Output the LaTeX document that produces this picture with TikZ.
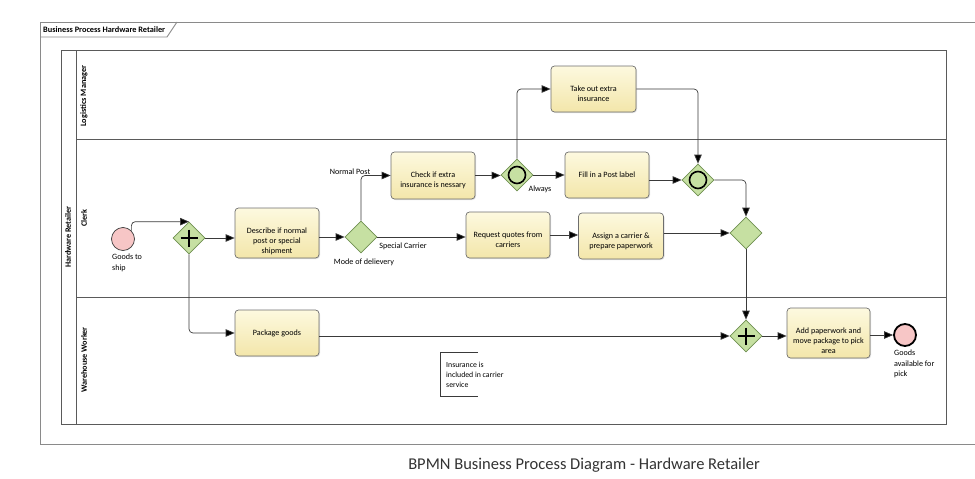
\documentclass[tikz,border=0pt]{standalone}
\usepackage{fontspec}
\setmainfont{Carlito}
\usetikzlibrary{shapes.geometric,arrows.meta,shadows}
\newcommand\mytxt{\fontsize{8.1}{10.2}\selectfont}
\definecolor{taskTop}{HTML}{FDF9DF}
\definecolor{taskBot}{HTML}{F3E6AA}
\definecolor{taskLine}{HTML}{6E6E6E}
\definecolor{gwFill}{HTML}{C6E0A2}
\definecolor{gwLine}{HTML}{6F8F50}
\definecolor{evFill}{HTML}{F7C6C6}
\definecolor{frameLine}{HTML}{8A8A8A}
\definecolor{poolLine}{HTML}{5A5A5A}
\definecolor{flowLine}{HTML}{3A3A3A}
\tikzset{
  taskbox/.style={rectangle, rounded corners=3.5pt, draw=taskLine, line width=0.7pt,
    top color=taskTop, bottom color=taskBot, inner sep=0pt,
    drop shadow={shadow xshift=1pt, shadow yshift=-1pt, opacity=0.25}},
  tasktext/.style={anchor=north, align=center, font=\mytxt, inner sep=0pt},
  gateway/.style={diamond, draw=gwLine, fill=gwFill, line width=0.7pt, minimum width=32pt,
    minimum height=32pt, inner sep=0pt},
  startev/.style={circle, draw=flowLine, fill=evFill, line width=0.7pt, minimum size=23pt, inner sep=0pt},
  endev/.style={circle, draw=black, fill=evFill, line width=1.8pt, minimum size=22pt, inner sep=0pt},
  flow/.style={draw=flowLine, line width=0.7pt, rounded corners=4pt,
    -{Triangle[length=9pt,width=7.5pt,fill=black]}},
  lbl/.style={font=\mytxt, inner sep=0pt, align=left},
  lanelbl/.style={font=\fontsize{8.2}{10}\selectfont\bfseries, rotate=90, inner sep=0pt},
  plusbar/.style={line width=2.4pt, black},
  ring/.style={line width=1.6pt, black}
}
\begin{document}
\begin{tikzpicture}[x=1pt,y=-1pt]
\useasboundingbox (0,0) rectangle (975,479);
% outer frame
\draw[frameLine, line width=0.9pt] (975,22) -- (40,22) -- (40,444) -- (975,444);
\draw[frameLine, line width=0.9pt] (40,37) -- (167,37) -- (177,22);
\node[anchor=west, font=\fontsize{8.3}{10}\selectfont\bfseries, inner sep=0pt] (hdr) at (43,30) {Business Process Hardware Retailer};
% pool and lanes
\draw[poolLine, line width=0.9pt] (61,50) rectangle (946,424);
\draw[poolLine, line width=0.9pt] (76,50) -- (76,424);
\draw[poolLine, line width=0.9pt] (76,139) -- (946,139);
\draw[poolLine, line width=0.9pt] (76,297) -- (946,297);
\node[lanelbl] (pool) at (68,237) {Hardware Retailer};
\node[lanelbl] (lane1) at (84,96) {Logistics Manager};
\node[lanelbl] (lane2) at (84,218) {Clerk};
\node[lanelbl] (lane3) at (84,360) {Warehouse Worker};
% events
\node[startev] (start) at (123,239) {};
\node[endev] (end) at (905,335) {};
\node[lbl, anchor=north west] (startlbl) at (112,254) {Goods to\\ship};
\node[lbl, anchor=north west] (endlbl) at (894,350) {Goods\\available for\\pick};
% tasks
\node[taskbox, minimum width=84pt, minimum height=50pt] (desc) at (277,233) {};
\node[taskbox, minimum width=84pt, minimum height=47pt] (check) at (433,175.5) {};
\node[taskbox, minimum width=85pt, minimum height=46pt] (take) at (593.5,89) {};
\node[taskbox, minimum width=84pt, minimum height=46pt] (fill) at (607,175) {};
\node[taskbox, minimum width=84pt, minimum height=46pt] (req) at (508,235) {};
\node[taskbox, minimum width=85pt, minimum height=46pt] (assign) at (621,236) {};
\node[taskbox, minimum width=84pt, minimum height=46pt] (pkg) at (277,333) {};
\node[taskbox, minimum width=83pt, minimum height=50pt] (add) at (828.5,333) {};
\node[tasktext] (descT) at ([yshift=-20pt]desc.north) {Describe if normal\\post or special\\shipment};
\node[tasktext] (checkT) at ([yshift=-20pt]check.north) {Check if extra\\insurance is nessary};
\node[tasktext] (takeT) at ([yshift=-20pt]take.north) {Take out extra\\insurance};
\node[tasktext] (fillT) at ([yshift=-20pt]fill.north) {Fill in a Post label};
\node[tasktext] (reqT) at ([yshift=-20pt]req.north) {Request quotes from\\carriers};
\node[tasktext] (assignT) at ([yshift=-20pt]assign.north) {Assign a carrier \&\\prepare paperwork};
\node[tasktext] (pkgT) at ([yshift=-20pt]pkg.north) {Package goods};
\node[tasktext] (addT) at ([yshift=-20pt]add.north) {Add paperwork and\\move package to pick\\area};
% gateways
\node[gateway] (g1) at (189,238) {};
\node[gateway] (g2) at (361,237) {};
\node[gateway] (gi1) at (517,175) {};
\node[gateway] (gi2) at (698,180) {};
\node[gateway] (gm) at (746,233) {};
\node[gateway] (pg2) at (746,336) {};
\draw[plusbar] ([yshift=8.5pt]g1.center) -- ([yshift=-8.5pt]g1.center);
\draw[plusbar] ([xshift=-8.5pt]g1.center) -- ([xshift=8.5pt]g1.center);
\draw[plusbar] ([yshift=8.5pt]pg2.center) -- ([yshift=-8.5pt]pg2.center);
\draw[plusbar] ([xshift=-8.5pt]pg2.center) -- ([xshift=8.5pt]pg2.center);
\draw[ring] (gi1.center) circle[radius=8.5pt];
\draw[ring] (gi2.center) circle[radius=8.5pt];
% labels
\node[lbl, anchor=base] (mode) at (364,264) {Mode of delievery};
\node[lbl, anchor=base] (normal) at (350,174) {Normal Post};
\node[lbl, anchor=base] (special) at (403,248) {Special Carrier};
\node[lbl, anchor=base] (always) at (540,191) {Always};
% flows
\draw[flow] (start.north east) |- (g1.north);
\draw[flow] (g1.east) -- (g1.east -| desc.west);
\draw[flow] (g2.west -| desc.east) -- (g2.west);
\draw[flow] (g2.north) |- (check.west);
\draw[flow] (g2.east) -- (g2.east -| req.west);
\draw[flow] (req.east) -- (req.east -| assign.west);
\draw[flow] (check.east) -- (check.east -| gi1.west);
\draw[flow] (gi1.north) |- (take.west);
\draw[flow] (gi1.east) -- (gi1.east -| fill.west);
\draw[flow] (gi2.west -| fill.east) -- (gi2.west);
\draw[flow] (take.east) -| (gi2.north);
\draw[flow] (gi2.east) -| (gm.north);
\draw[flow] (gm.west -| assign.east) -- (gm.west);
\draw[flow] (gm.south) -- (pg2.north);
\draw[flow] (g1.south) |- (pkg.west);
\draw[flow] (pg2.west -| pkg.east) -- (pg2.west);
\draw[flow] (pg2.east) -- (pg2.east -| add.west);
\draw[flow] (end.west -| add.east) -- (end.west);
% annotation
\draw[flowLine, line width=0.6pt] (478,352) -- (440,352) -- (440,396) -- (478,396);
\node[lbl, anchor=north west, font=\fontsize{7.8}{10}\selectfont] (note) at (446,362) {Insurance is\\included in carrier\\service};
% caption
\node[font=\fontsize{16.5}{19}\selectfont, text=black!80] (caption) at (584,465) {BPMN Business Process Diagram - Hardware Retailer};
\end{tikzpicture}
\end{document}
